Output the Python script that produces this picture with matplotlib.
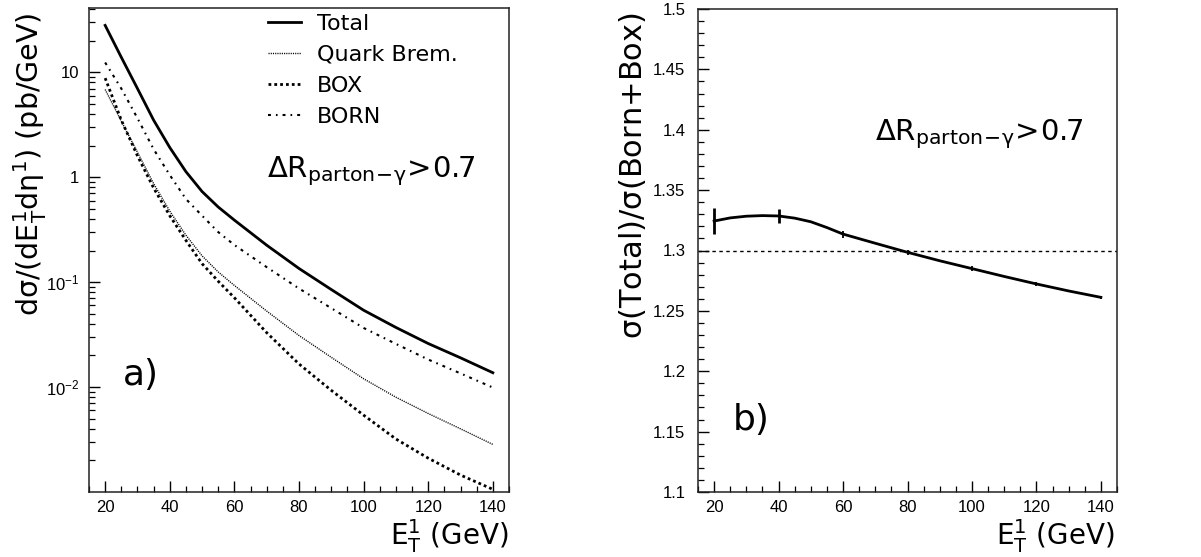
import matplotlib
matplotlib.use("Agg")
import matplotlib.pyplot as plt
from matplotlib.ticker import MultipleLocator, FixedLocator, FixedFormatter, LogLocator, NullFormatter

plt.rcParams['font.family'] = ['DejaVu Sans']
plt.rcParams['mathtext.fontset'] = 'dejavusans'
plt.rcParams['mathtext.default'] = 'regular'

# ---------------- data: panel a) ----------------
et = [20, 25, 30, 35, 40, 45, 50, 55, 60, 70, 80, 90, 100, 110, 120, 130, 140]
total = [28.0, 13.9, 7.0, 3.5, 1.92, 1.13, 0.73, 0.52, 0.39, 0.225, 0.135, 0.085, 0.054, 0.037, 0.026, 0.019, 0.0137]
quark_brem = [6.85, 3.42, 1.73, 0.87, 0.475, 0.28, 0.178, 0.125, 0.093, 0.053, 0.031, 0.0192, 0.012, 0.0080, 0.0056, 0.0040, 0.00284]
box = [8.8, 3.5, 1.6, 0.79, 0.43, 0.25, 0.15, 0.102, 0.071, 0.033, 0.0166, 0.0093, 0.0054, 0.0032, 0.0021, 0.00145, 0.00106]
born = [12.4, 7.0, 3.65, 1.85, 1.05, 0.62, 0.43, 0.30, 0.226, 0.139, 0.087, 0.0565, 0.0366, 0.0258, 0.0183, 0.0135, 0.0099]

# ---------------- data: panel b) ----------------
ratio_et = [20, 40, 60, 80, 100, 120, 140]
ratio = [1.3244, 1.3286, 1.3134, 1.2985, 1.285, 1.2723, 1.2612]
ratio_err = [0.0104, 0.0055, 0.0030, 0.0022, 0.0020, 0.0020, 0.0015]
curve_et = [20, 25, 30, 35, 40, 45, 50, 55, 60, 70, 80, 90, 100, 110, 120, 130, 140]
curve_ratio = [1.3244, 1.3270, 1.3284, 1.3289, 1.3286, 1.3268, 1.3238, 1.3190, 1.3136, 1.3060,
               1.2985, 1.2915, 1.2850, 1.2785, 1.2723, 1.2665, 1.2612]
reference_level = 1.3

ytick_vals = [0.01, 0.1, 1, 10]
ytick_labels = [r'$10^{-2}$', r'$10^{-1}$', '1', '10']

fig = plt.figure(figsize=(12.01, 5.57), dpi=100)
axA = fig.add_axes([89/1201, 1-492/557, 420/1201, 484/557])
axB = fig.add_axes([698/1201, 1-492/557, 419/1201, 483/557])

for ax in (axA, axB):
    for s in ax.spines.values():
        s.set_linewidth(1.1)
        s.set_color('#222222')
    ax.tick_params(which='both', direction='in', top=False, right=False)
    ax.tick_params(which='major', length=8, width=1.0, pad=6)
    ax.tick_params(which='minor', length=4, width=0.9)
    ax.set_xlim(15, 145)
    ax.xaxis.set_major_locator(MultipleLocator(20))
    ax.xaxis.set_minor_locator(MultipleLocator(5))

# ---- panel a
axA.set_yscale('log')
axA.set_ylim(0.001, 41)
axA.plot(et, total, color='k', lw=2.0, solid_joinstyle='round', label='Total')
axA.plot(et, quark_brem, color='k', lw=1.0, linestyle=(0, (0.8, 0.8)), label='Quark Brem.')
axA.plot(et, box, color='k', lw=2.0, linestyle=(0, (1.0, 1.1)), label='BOX')
axA.plot(et, born, color='k', lw=1.5, linestyle=(0, (1.4, 2.4, 0.8, 2.4)), label='BORN')
axA.yaxis.set_major_locator(FixedLocator(ytick_vals))
axA.yaxis.set_major_formatter(FixedFormatter(ytick_labels))
axA.yaxis.set_minor_locator(LogLocator(base=10, subs=[2, 3, 4, 5, 6, 7, 8, 9]))
axA.yaxis.set_minor_formatter(NullFormatter())
axA.tick_params(axis='y', which='major', pad=7)
for lab in axA.get_xticklabels() + axA.get_yticklabels():
    lab.set_fontfamily('Liberation Sans')
    lab.set_fontsize(12)

leg = axA.legend(loc='upper left', bbox_to_anchor=(0.40, 1.011), frameon=False,
                 fontsize=16, handlelength=1.5, handletextpad=0.7, labelspacing=0.5,
                 borderaxespad=0.1)

dr_text = r'$\Delta R_{\mathrm{parton\!-\!\gamma}}\!>\!0.7$'
axA.text(0.424, 0.651, dr_text, transform=axA.transAxes,
         fontsize=21, ha='left', va='baseline')
axA.text(0.08, 0.242, 'a)', transform=axA.transAxes, fontsize=26, ha='left', va='center')

# ---- panel b
axB.set_ylim(1.1, 1.5)
axB.yaxis.set_major_locator(MultipleLocator(0.05))
axB.yaxis.set_minor_locator(MultipleLocator(0.01))
axB.yaxis.set_major_formatter(matplotlib.ticker.FormatStrFormatter('%g'))
axB.tick_params(axis='y', which='major', pad=9)
for lab in axB.get_xticklabels() + axB.get_yticklabels():
    lab.set_fontfamily('Liberation Sans')
    lab.set_fontsize(12)

axB.axhline(reference_level, color='k', lw=1.0, linestyle=(0, (2.5, 2.5)))
axB.plot(curve_et, curve_ratio, color='k', lw=2.0, solid_joinstyle='round')
axB.errorbar(ratio_et[:2], ratio[:2], yerr=ratio_err[:2], fmt='none', ecolor='k', elinewidth=2.0, capsize=0)
axB.errorbar(ratio_et[2:], ratio[2:], yerr=ratio_err[2:], fmt='none', ecolor='k', elinewidth=1.3, capsize=0)

axB.text(0.422, 0.729, dr_text, transform=axB.transAxes,
         fontsize=21, ha='left', va='baseline')
axB.text(0.084, 0.149, 'b)', transform=axB.transAxes, fontsize=26, ha='left', va='center')

# ---- axis titles
fig.text(30/1201, 1-12/557, r'd$\sigma$/(dE$^{1}_{T}$d$\eta^{1}$) (pb/GeV)', rotation=90,
         ha='center', va='top', fontsize=20.5)
fig.text(632/1201, 1-12/557, r'$\sigma$(Total)/$\sigma$(Born+Box)', rotation=90,
         ha='center', va='top', fontsize=22)
fig.text(509/1201, 1-536/557, r'E$^{1}_{T}$ (GeV)', ha='right', va='center', fontsize=20)
fig.text(1115/1201, 1-536/557, r'E$^{1}_{T}$ (GeV)', ha='right', va='center', fontsize=20)

fig.savefig('out.png', dpi=100)
